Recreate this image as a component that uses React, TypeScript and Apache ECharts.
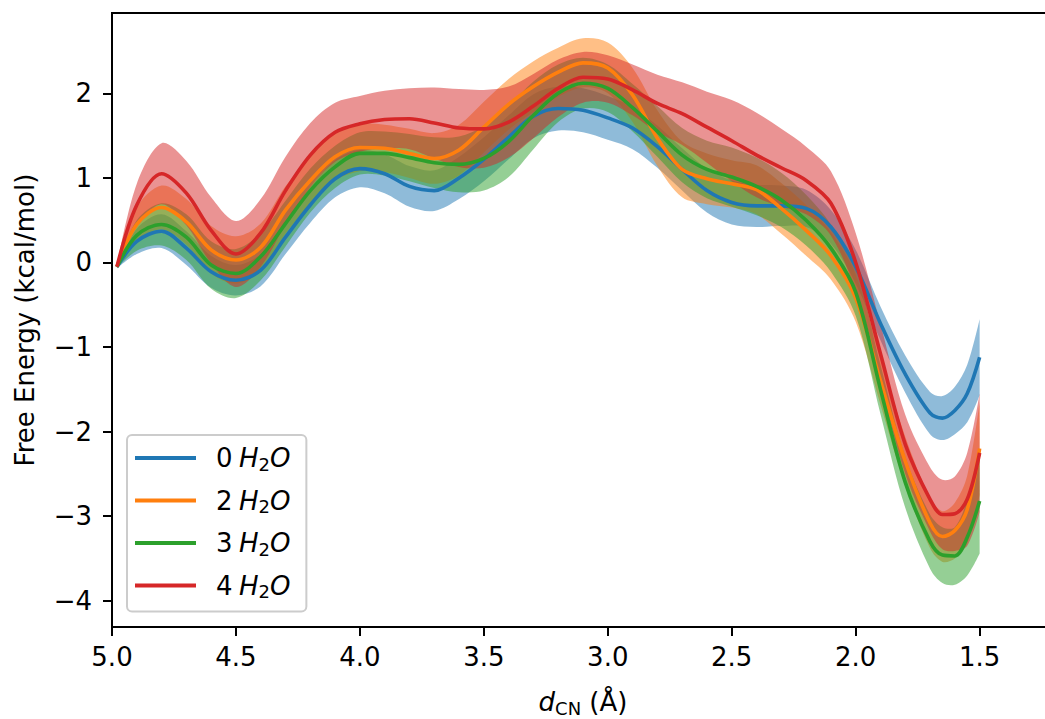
import React, { useEffect, useRef } from "react";
import * as echarts from "echarts";

// d_CN positions (Å)
const dCN = [4.98, 4.9, 4.8, 4.7, 4.6, 4.5, 4.4, 4.3, 4.2, 4.1, 4.0, 3.9, 3.8, 3.7, 3.6, 3.5, 3.4, 3.3, 3.2, 3.1, 3.0, 2.9, 2.8, 2.7, 2.6, 2.5, 2.4, 2.3, 2.2, 2.1, 2.0, 1.9, 1.8, 1.7, 1.65, 1.6, 1.55, 1.5];

const seriesNames = ["0 H₂O", "2 H₂O", "3 H₂O", "4 H₂O"];
const seriesColors = ["#1f77b4", "#ff7f0e", "#2ca02c", "#d62728"];
const bandColors = ["rgba(31,119,180,0.5)", "rgba(255,127,14,0.5)", "rgba(44,160,44,0.5)", "rgba(214,39,40,0.5)"];

// Free energy (kcal/mol) and half-width of the shaded band
const energy0 = [-0.05, 0.25, 0.37, 0.17, -0.11, -0.21, -0.09, 0.30, 0.68, 0.99, 1.11, 1.05, 0.90, 0.85, 1.00, 1.22, 1.48, 1.73, 1.82, 1.80, 1.71, 1.59, 1.37, 1.10, 0.85, 0.71, 0.67, 0.67, 0.64, 0.42, -0.05, -0.72, -1.32, -1.78, -1.84, -1.75, -1.55, -1.12];
const spread0 = [0.02, 0.15, 0.20, 0.20, 0.19, 0.18, 0.19, 0.20, 0.21, 0.22, 0.22, 0.23, 0.24, 0.24, 0.25, 0.26, 0.26, 0.26, 0.26, 0.26, 0.26, 0.25, 0.25, 0.25, 0.26, 0.26, 0.25, 0.24, 0.22, 0.20, 0.20, 0.20, 0.22, 0.25, 0.26, 0.28, 0.34, 0.45];

const energy2 = [-0.05, 0.45, 0.65, 0.48, 0.15, 0.03, 0.18, 0.62, 0.97, 1.25, 1.36, 1.35, 1.29, 1.23, 1.33, 1.60, 1.87, 2.08, 2.25, 2.36, 2.30, 1.98, 1.47, 1.10, 0.99, 0.93, 0.86, 0.64, 0.38, 0.08, -0.42, -1.40, -2.35, -3.08, -3.24, -3.17, -2.92, -2.20];
const spread2 = [0.02, 0.20, 0.26, 0.27, 0.28, 0.28, 0.28, 0.28, 0.28, 0.28, 0.28, 0.28, 0.29, 0.30, 0.30, 0.30, 0.30, 0.30, 0.29, 0.29, 0.30, 0.32, 0.33, 0.33, 0.30, 0.28, 0.29, 0.30, 0.30, 0.28, 0.28, 0.28, 0.29, 0.30, 0.30, 0.33, 0.40, 0.55];

const energy3 = [-0.05, 0.32, 0.45, 0.30, -0.03, -0.13, 0.07, 0.46, 0.85, 1.13, 1.29, 1.29, 1.24, 1.18, 1.16, 1.23, 1.43, 1.74, 2.00, 2.12, 2.06, 1.83, 1.55, 1.27, 1.10, 1.01, 0.90, 0.74, 0.50, 0.17, -0.35, -1.50, -2.60, -3.30, -3.46, -3.47, -3.25, -2.82];
const spread3 = [0.02, 0.18, 0.25, 0.27, 0.28, 0.29, 0.28, 0.27, 0.26, 0.25, 0.25, 0.26, 0.28, 0.30, 0.33, 0.38, 0.42, 0.40, 0.34, 0.30, 0.28, 0.28, 0.30, 0.32, 0.34, 0.35, 0.34, 0.32, 0.30, 0.28, 0.28, 0.29, 0.30, 0.32, 0.33, 0.34, 0.45, 0.62];

const energy4 = [-0.05, 0.68, 1.05, 0.82, 0.38, 0.10, 0.35, 0.85, 1.27, 1.54, 1.64, 1.69, 1.70, 1.65, 1.59, 1.58, 1.66, 1.85, 2.06, 2.19, 2.17, 2.04, 1.88, 1.76, 1.60, 1.44, 1.27, 1.12, 0.97, 0.70, 0.00, -1.08, -2.15, -2.80, -2.98, -2.97, -2.80, -2.25];
const spread4 = [0.02, 0.25, 0.36, 0.38, 0.39, 0.39, 0.40, 0.40, 0.38, 0.35, 0.33, 0.34, 0.36, 0.42, 0.46, 0.46, 0.42, 0.38, 0.34, 0.30, 0.28, 0.30, 0.34, 0.37, 0.42, 0.48, 0.50, 0.46, 0.40, 0.38, 0.35, 0.35, 0.35, 0.38, 0.41, 0.44, 0.55, 0.70];

const energies = [energy0, energy2, energy3, energy4];
const spreads = [spread0, spread2, spread3, spread4];

const xTicks = [5.0, 4.5, 4.0, 3.5, 3.0, 2.5, 2.0, 1.5];
const yTicks = [-4, -3, -2, -1, 0, 1, 2];

const SMOOTH = 0.33;
const FONT = "DejaVu Sans";

// same bezier construction as ECharts' smoothed line
function smoothSegs(p: number[][]): string {
  const n = p.length;
  const cpIn: number[][] = [];
  const cpOut: number[][] = [];
  for (let i = 0; i < n; i++) {
    if (i === 0 || i === n - 1) {
      cpIn.push(p[i]);
      cpOut.push(p[i]);
      continue;
    }
    const a = p[i - 1], b = p[i + 1], c = p[i];
    const vx = b[0] - a[0], vy = b[1] - a[1];
    const l0 = Math.hypot(c[0] - a[0], c[1] - a[1]);
    const l1 = Math.hypot(b[0] - c[0], b[1] - c[1]);
    const r = l1 / (l0 + l1 || 1);
    cpOut.push([c[0] + vx * SMOOTH * r, c[1] + vy * SMOOTH * r]);
    cpIn.push([c[0] - vx * SMOOTH * (1 - r), c[1] - vy * SMOOTH * (1 - r)]);
  }
  let s = "";
  for (let i = 0; i < n - 1; i++) {
    const o = cpOut[i], q = cpIn[i + 1], e = p[i + 1];
    s += ` C${o[0].toFixed(2)} ${o[1].toFixed(2)} ${q[0].toFixed(2)} ${q[1].toFixed(2)} ${e[0].toFixed(2)} ${e[1].toFixed(2)}`;
  }
  return s;
}

export default function App() {
  const ref = useRef<HTMLDivElement>(null);
  useEffect(() => {
    if (!ref.current) return;
    const chart = echarts.init(ref.current, null, { renderer: "svg" });

    const bandSeries = energies.map((m, k) => ({
      type: "custom",
      name: "band" + k,
      silent: true,
      z: 1,
      data: [[dCN[0], m[0]]],
      encode: { x: 0, y: 1 },
      renderItem: (params: any, api: any) => {
        const e = spreads[k];
        const up = dCN.map((x, i) => api.coord([x, m[i] + e[i]]));
        const lo = dCN.map((x, i) => api.coord([x, m[i] - e[i]])).reverse();
        const d =
          `M${up[0][0]} ${up[0][1]}` +
          smoothSegs(up) +
          ` L${lo[0][0]} ${lo[0][1]}` +
          smoothSegs(lo) +
          " Z";
        return {
          type: "path",
          shape: { pathData: d },
          style: { fill: bandColors[k], stroke: "none", lineWidth: 0 },
        };
      },
    }));

    const lineSeries = energies.map((m, k) => ({
      type: "line",
      name: seriesNames[k],
      z: 3,
      color: seriesColors[k],
      data: dCN.map((x, i) => [x, m[i]]),
      smooth: SMOOTH,
      showSymbol: false,
      symbol: "none",
      lineStyle: { color: seriesColors[k], width: 3.6 },
      itemStyle: { color: seriesColors[k] },
    }));

    const option: any = {
      animation: false,
      backgroundColor: "#ffffff",
      grid: {
        left: 112,
        top: 13,
        width: 942,
        height: 614,
        outerBoundsMode: "none",
        containLabel: false,
        show: true,
        borderColor: "#000",
        borderWidth: 2,
        backgroundColor: "transparent",
      },
      legend: {
        data: seriesNames,
        orient: "vertical",
        left: 127,
        top: 435,
        icon: "rect",
        itemWidth: 61,
        itemHeight: 4,
        itemGap: 12.5,
        padding: [8, 16, 11, 8],
        backgroundColor: "rgba(255,255,255,0.8)",
        borderColor: "#cccccc",
        borderWidth: 2,
        borderRadius: 5,
        itemStyle: { borderWidth: 0 },
        formatter: (name: string) => {
          const k = name.split(" ")[0];
          return `{n|${k}}{g| }{i|H}{s|2}{i|O}`;
        },
        textStyle: {
          fontFamily: FONT,
          fontSize: 26,
          color: "#000",
          lineHeight: 30,
          rich: {
            n: { fontFamily: FONT, fontSize: 26, color: "#000", lineHeight: 30, padding: [0, 0, 0, 15] },
            g: { fontFamily: FONT, fontSize: 20, color: "#000", lineHeight: 30 },
            i: { fontFamily: FONT, fontSize: 26, fontStyle: "italic", color: "#000", lineHeight: 30 },
            s: { fontFamily: FONT, fontSize: 18, color: "#000", lineHeight: 12, verticalAlign: "bottom" },
          },
        },
      },
      xAxis: {
        type: "value",
        inverse: true,
        min: 1.2,
        max: 5.0,
        name: "{i|d}{s|CN} (Å)",
        nameLocation: "middle",
        nameGap: 60,
        nameTextStyle: {
          fontFamily: FONT,
          fontSize: 26,
          color: "#000",
          lineHeight: 30,
          rich: {
            i: { fontFamily: FONT, fontSize: 26, fontStyle: "italic", color: "#000", lineHeight: 30 },
            s: { fontFamily: FONT, fontSize: 18, color: "#000", lineHeight: 12, verticalAlign: "bottom" },
          },
        },
        axisLine: { show: true, onZero: false, lineStyle: { color: "#000", width: 2 } },
        axisTick: { show: true, length: 9, customValues: xTicks, lineStyle: { color: "#000", width: 2 } },
        axisLabel: {
          customValues: xTicks,
          formatter: (v: number) => v.toFixed(1),
          margin: 17,
          fontFamily: FONT,
          fontSize: 26,
          color: "#000",
        },
        splitLine: { show: false },
      },
      yAxis: {
        type: "value",
        min: -4.31,
        max: 2.95,
        name: "Free Energy (kcal/mol)",
        nameLocation: "middle",
        nameRotate: 90,
        nameGap: 74,
        nameTextStyle: { fontFamily: FONT, fontSize: 26, color: "#000" },
        axisLine: { show: true, onZero: false, lineStyle: { color: "#000", width: 2 } },
        axisTick: { show: true, length: 9, customValues: yTicks, lineStyle: { color: "#000", width: 2 } },
        axisLabel: {
          customValues: yTicks,
          formatter: (v: number) => (v < 0 ? "\u2212" + Math.abs(v) : String(v)),
          margin: 20,
          fontFamily: FONT,
          fontSize: 26,
          color: "#000",
        },
        splitLine: { show: false },
      },
      series: [...bandSeries, ...lineSeries],
    };

    chart.setOption(option);
    return () => chart.dispose();
  }, []);

  return (
    <div
      ref={ref}
      style={{ position: "fixed", left: 0, top: 0, width: 1045, height: 719, background: "#fff" }}
    />
  );
}
